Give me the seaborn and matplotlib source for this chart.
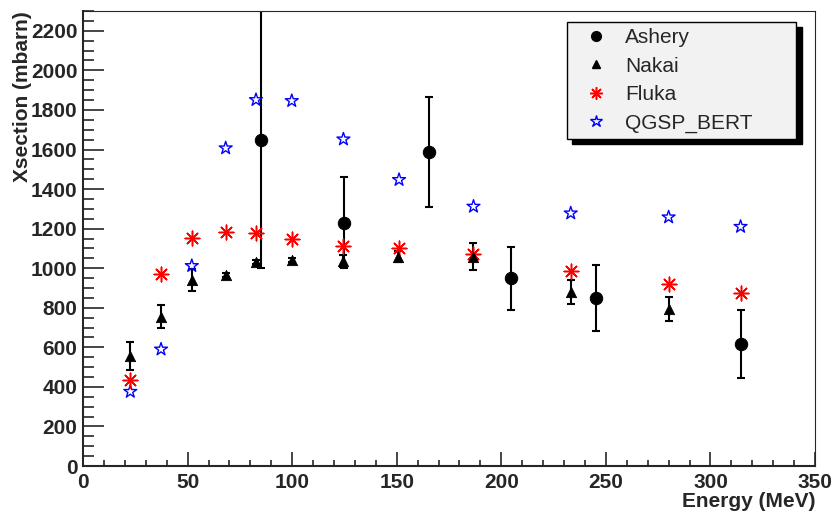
import numpy as np
import pandas as pd
import matplotlib
matplotlib.use("Agg")
import matplotlib.pyplot as plt
import seaborn as sns
from matplotlib.ticker import MultipleLocator
from matplotlib.lines import Line2D

# Datos
ashery_e = [85.1, 124.8, 165.2, 204.7, 245.2, 314.4]
ashery_xs = [1650, 1230, 1587, 949, 851, 617]
ashery_err = [650, 230, 278, 160, 167, 170]

nakai_e = [22.6, 37.3, 52.0, 68.2, 82.7, 99.8, 124.5, 150.8, 186.7, 233.2, 280.0]
nakai_xs = [556, 755, 941, 966, 1030, 1042, 1037, 1059, 1059, 879, 793]
nakai_err = [72, 57, 57, 10, 10, 10, 30, 30, 70, 60, 60]

model_e = [22.6, 37.3, 52.0, 68.2, 82.7, 99.8, 124.5, 151.1, 186.7, 233.2, 280.0, 314.4]
fluka_xs = [435, 970, 1155, 1185, 1177, 1147, 1113, 1104, 1072, 988, 921, 874]
qgsp_xs = [376, 590, 1012, 1607, 1851, 1846, 1652, 1447, 1312, 1278, 1258, 1210]

sns.set_style("ticks")
plt.rcParams['font.family'] = ['Liberation Sans', 'DejaVu Sans']

fig = plt.figure(figsize=(8.32, 5.15), dpi=100)
ax = fig.add_axes([0.0998, 0.0951, 0.8798, 0.8835])

# Barras de error
ax.errorbar(ashery_e, ashery_xs, yerr=ashery_err, fmt='none', ecolor='black',
            elinewidth=1.5, capsize=3, capthick=1.5, zorder=2)
ax.errorbar(nakai_e, nakai_xs, yerr=nakai_err, fmt='none', ecolor='black',
            elinewidth=1.5, capsize=3, capthick=1.5, zorder=2)

# Puntos
sns.scatterplot(x=model_e, y=qgsp_xs, marker='*', s=95, facecolor='none',
                edgecolor='blue', linewidth=1.0, ax=ax, zorder=3)
sns.scatterplot(x=model_e, y=fluka_xs, marker=(8, 2, 0), s=110, color='red',
                edgecolor='red', linewidth=1.1, ax=ax, zorder=3)
sns.scatterplot(x=nakai_e, y=nakai_xs, marker='^', s=55, color='black',
                edgecolor='black', ax=ax, zorder=4)
sns.scatterplot(x=ashery_e, y=ashery_xs, marker='o', s=80, color='black',
                edgecolor='black', ax=ax, zorder=4)

ax.set_xlim(0, 350)
ax.set_ylim(0, 2300)
ax.xaxis.set_major_locator(MultipleLocator(50))
ax.xaxis.set_minor_locator(MultipleLocator(10))
ax.yaxis.set_major_locator(MultipleLocator(200))
ax.yaxis.set_minor_locator(MultipleLocator(50))
ax.tick_params(axis='x', which='major', direction='in', length=10, width=1.2,
               labelsize=15, pad=5)
ax.tick_params(axis='x', which='minor', direction='in', length=4.5, width=1.2)
ax.tick_params(axis='y', which='major', direction='in', length=15, width=1.2,
               labelsize=15, pad=4)
ax.tick_params(axis='y', which='minor', direction='in', length=8, width=1.2)
for lab in ax.get_xticklabels() + ax.get_yticklabels():
    lab.set_fontweight('bold')

for side in ['top', 'right']:
    ax.spines[side].set_linewidth(0.8)
for side in ['left', 'bottom']:
    ax.spines[side].set_linewidth(1.5)

ax.set_xlabel("Energy (MeV)", fontsize=15, fontweight='bold', loc='right', labelpad=0)
ax.set_ylabel("Xsection (mbarn)", fontsize=15, fontweight='bold', loc='top', labelpad=-1)

handles = [
    Line2D([], [], marker='o', color='black', linestyle='none', markersize=7),
    Line2D([], [], marker='^', color='black', linestyle='none', markersize=6),
    Line2D([], [], marker=(8, 2, 0), color='red', linestyle='none', markersize=9, markeredgewidth=1.1),
    Line2D([], [], marker='*', markerfacecolor='none', markeredgecolor='blue',
           linestyle='none', markersize=9, markeredgewidth=1.0),
]
leg = ax.legend(handles, ["Ashery", "Nakai", "Fluka", "QGSP_BERT"],
                loc='upper left', bbox_to_anchor=(0.661, 0.976, 0.313, 0.0),
                mode='expand', fontsize=15, fancybox=False, framealpha=1,
                edgecolor='black', facecolor='#f2f2f2', labelspacing=0.45,
                handlelength=2.2, handletextpad=0.3, borderpad=0.3, borderaxespad=0,
                shadow={'ox': 4, 'oy': -4, 'facecolor': 'black',
                        'edgecolor': 'black', 'alpha': 1})
leg.get_frame().set_linewidth(1.0)

fig.savefig("out.png", dpi=100)
